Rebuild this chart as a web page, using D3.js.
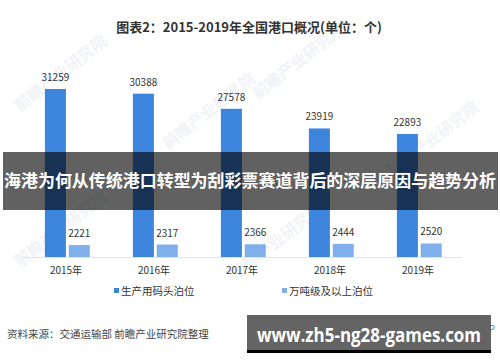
<!DOCTYPE html>
<html><head><meta charset="utf-8">
<script src="https://cdn.jsdelivr.net/npm/d3@7/dist/d3.min.js"></script>
<style>html,body{margin:0;padding:0;background:#fff;}svg{display:block;}</style>
</head><body>
<svg id="chart" width="500" height="362"></svg>
<script>
const years = ["2015年","2016年","2017年","2018年","2019年"];
const seriesNames = ["生产用码头泊位","万吨级及以上泊位"];
const berths = [31259, 30388, 27578, 23919, 22893];
const bigBerths = [2221, 2317, 2366, 2444, 2520];
const colors = ["#3d84dc","#7fb0ec"];
const title = "图表2：2015-2019年全国港口概况(单位：个)";
const banner = "海港为何从传统港口转型为刮彩票赛道背后的深层原因与趋势分析";
const source = "资料来源：交通运输部 前瞻产业研究院整理";
const siteText = "www.zh5-ng28-games.com";
const appText = "@前瞻经济学人APP";

const svg = d3.select("#chart");
const font = "'Noto Sans CJK SC','Microsoft YaHei',sans-serif";

// faint watermarks (kept inside the frame)
const wm = [[20,112],[168,150],[258,100],[392,178],[20,268],[236,280]];
wm.forEach(([x,y])=>{
  svg.append("text").attr("x",x).attr("y",y)
    .attr("transform",`rotate(-38,${x},${y})`)
    .attr("font-family",font).attr("font-size",16).attr("font-weight","bold")
    .attr("fill","#f1f3f6").text("前瞻产业研究院");
});

svg.append("text").attr("x",249).attr("y",32).attr("text-anchor","middle")
  .attr("font-family",font).attr("font-size",13).attr("font-weight","bold")
  .attr("fill","#333").text(title);

const x0 = d3.scaleBand().domain(years).range([22,462]);
const x1 = d3.scaleBand().domain(seriesNames)
  .range([x0.bandwidth()*0.26, x0.bandwidth()*0.77]).paddingInner(0.12);
const y = d3.scaleLinear().domain([0,31259]).range([257,89]);

const data = years.map((yr,i)=>({yr, vals:[berths[i], bigBerths[i]]}));

const g = svg.append("g");
g.append("line").attr("x1",22).attr("x2",462).attr("y1",y(0)+0.5).attr("y2",y(0)+0.5)
  .attr("stroke","#e3e3e3").attr("stroke-width",1.2);

const groups = g.selectAll(".grp").data(data).enter().append("g")
  .attr("transform",d=>`translate(${x0(d.yr)},0)`);
groups.selectAll("rect").data(d=>d.vals.map((v,j)=>({v, s:seriesNames[j], j})))
  .enter().append("rect")
  .attr("x",d=>x1(d.s)).attr("width",x1.bandwidth())
  .attr("y",d=>y(d.v)).attr("height",d=>y(0)-y(d.v))
  .attr("fill",d=>colors[d.j]);
groups.selectAll(".lbl").data(d=>d.vals.map((v,j)=>({v, s:seriesNames[j], j})))
  .enter().append("text")
  .attr("x",d=>x1(d.s)+x1.bandwidth()/2).attr("y",d=>y(d.v)-8)
  .attr("text-anchor","middle").attr("font-family",font).attr("font-size",10)
  .attr("fill","#333").text(d=>d.v);

const xAxis = d3.axisBottom(x0).tickSize(0).tickPadding(0);
const ax = g.append("g").attr("transform",`translate(0,${y(0)+10})`).call(xAxis);
ax.select(".domain").remove();
ax.selectAll("text").attr("font-family",font).attr("font-size",10).attr("fill","#333").attr("dy","0.71em");

const legX = [114, 282];
seriesNames.forEach((s,i)=>{
  svg.append("rect").attr("x",legX[i]).attr("y",288).attr("width",5).attr("height",5).attr("fill",colors[i]);
  svg.append("text").attr("x",legX[i]+7).attr("y",295).attr("font-family",font)
    .attr("font-size",10.5).attr("fill","#333").text(s);
});

svg.append("rect").attr("x",3).attr("y",152).attr("width",495).attr("height",58)
  .attr("fill","rgba(0,0,0,0.62)");
svg.append("text").attr("x",4).attr("y",187).attr("textLength",492).attr("lengthAdjust","spacingAndGlyphs")
  .attr("font-family",font).attr("font-size",17).attr("font-weight","bold")
  .attr("fill","#fff").text(banner);

svg.append("text").attr("x",7).attr("y",338).attr("font-family",font).attr("font-size",10.5)
  .attr("fill","#444").text(source);
svg.append("text").attr("x",407).attr("y",333).attr("font-family",font).attr("font-size",10)
  .attr("fill","#777").text(appText);

svg.append("rect").attr("x",247).attr("y",350).attr("width",244).attr("height",3).attr("fill","#000");
svg.append("rect").attr("x",247).attr("y",315).attr("width",244).attr("height",35).attr("fill","#646464");
svg.append("text").attr("x",257).attr("y",342).attr("textLength",224).attr("lengthAdjust","spacingAndGlyphs")
  .attr("font-family","'Open Sans','DejaVu Sans',sans-serif").attr("font-size",20).attr("font-weight","bold")
  .attr("fill","#fff").text(siteText);
</script>
</body></html>
